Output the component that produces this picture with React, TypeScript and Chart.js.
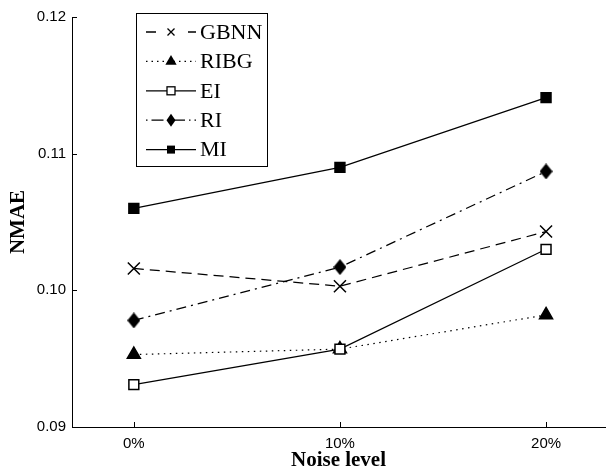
import React, { useEffect, useRef } from 'react';
import { Chart, registerables } from 'chart.js';

Chart.register(...registerables);

// ---- data ----
const noiseLevels = [0, 10, 20];
const noiseLabels = ['0%', '10%', '20%'];
const yTickValues = [0.09, 0.1, 0.11, 0.12];
const seriesNames = ['GBNN', 'RIBG', 'EI', 'RI', 'MI'];
const gbnnValues = [0.1016, 0.1003, 0.1043];
const ribgValues = [0.0953, 0.0957, 0.0982];
const eiValues = [0.0931, 0.0957, 0.103];
const riValues = [0.0978, 0.1017, 0.1087];
const miValues = [0.106, 0.109, 0.1141];

// ---- styles ----
const lineDashes: number[][] = [[10, 6], [1.5, 4.5], [], [10, 5, 2, 5], []];
const legendDashes: number[][] = [[10, 32], [1.5, 4], [], [1.5, 4, 12, 4], []];
const markerKinds = ['cross', 'triangle', 'openSquare', 'diamond', 'filledSquare'];

function makeDiamond(w: number, h: number) {
  const c = document.createElement('canvas');
  c.width = w;
  c.height = h;
  const g = c.getContext('2d')!;
  g.beginPath();
  g.moveTo(w / 2, 0);
  g.lineTo(w, h / 2);
  g.lineTo(w / 2, h);
  g.lineTo(0, h / 2);
  g.closePath();
  g.fillStyle = '#000';
  g.fill();
  return c;
}

function drawLegendMarker(ctx: CanvasRenderingContext2D, kind: string, x: number, y: number) {
  ctx.save();
  ctx.setLineDash([]);
  ctx.strokeStyle = '#000';
  ctx.fillStyle = '#000';
  ctx.lineWidth = 1.3;
  if (kind === 'cross') {
    const s = 3.5;
    ctx.beginPath();
    ctx.moveTo(x - s, y - s);
    ctx.lineTo(x + s, y + s);
    ctx.moveTo(x - s, y + s);
    ctx.lineTo(x + s, y - s);
    ctx.stroke();
  } else if (kind === 'triangle') {
    const r = 6.5;
    ctx.beginPath();
    ctx.moveTo(x, y - r);
    ctx.lineTo(x + r * 0.866, y + r * 0.5);
    ctx.lineTo(x - r * 0.866, y + r * 0.5);
    ctx.closePath();
    ctx.fill();
  } else if (kind === 'openSquare') {
    ctx.fillStyle = '#fff';
    ctx.fillRect(x - 4, y - 4, 8, 8);
    ctx.strokeRect(x - 4, y - 4, 8, 8);
  } else if (kind === 'diamond') {
    ctx.beginPath();
    ctx.moveTo(x, y - 6.5);
    ctx.lineTo(x + 4.5, y);
    ctx.lineTo(x, y + 6.5);
    ctx.lineTo(x - 4.5, y);
    ctx.closePath();
    ctx.fill();
  } else {
    ctx.fillRect(x - 4, y - 4, 8, 8);
  }
  ctx.restore();
}

const legendPlugin = {
  id: 'boxLegend',
  afterDraw(chart: any) {
    const ctx: CanvasRenderingContext2D = chart.ctx;
    ctx.save();
    ctx.fillStyle = '#fff';
    ctx.fillRect(136, 13, 132, 154);
    ctx.strokeStyle = '#000';
    ctx.lineWidth = 1;
    ctx.strokeRect(136.5, 13.5, 131, 153);
    seriesNames.forEach((name, i) => {
      const y = 32 + i * 29.4;
      ctx.setLineDash(legendDashes[i]);
      ctx.lineWidth = 1.3;
      ctx.beginPath();
      ctx.moveTo(146, y);
      ctx.lineTo(196, y);
      ctx.stroke();
      ctx.setLineDash([]);
      drawLegendMarker(ctx, markerKinds[i], 171, y);
      ctx.fillStyle = '#000';
      ctx.font = '22px "Liberation Serif"';
      ctx.textBaseline = 'middle';
      ctx.textAlign = 'left';
      ctx.fillText(name, 200, y + 1);
    });
    ctx.restore();
  },
};

const inwardTicksPlugin = {
  id: 'inwardTicks',
  afterDatasetsDraw(chart: any) {
    const ctx: CanvasRenderingContext2D = chart.ctx;
    const { left, bottom } = chart.chartArea;
    const xs = chart.scales.x;
    const ys = chart.scales.y;
    ctx.save();
    ctx.strokeStyle = '#000';
    ctx.lineWidth = 1;
    ctx.setLineDash([]);
    ctx.beginPath();
    yTickValues.forEach((v) => {
      const py = Math.round(ys.getPixelForValue(v)) + 0.5;
      ctx.moveTo(left, py);
      ctx.lineTo(left + 5, py);
    });
    noiseLevels.forEach((v) => {
      const px = Math.round(xs.getPixelForValue(v)) + 0.5;
      ctx.moveTo(px, bottom);
      ctx.lineTo(px, bottom - 5);
    });
    ctx.stroke();
    ctx.restore();
  },
};

export default function App() {
  const canvasRef = useRef<HTMLCanvasElement | null>(null);

  useEffect(() => {
    if (!canvasRef.current) return;
    const diamond = makeDiamond(13, 16);
    const seriesValues = [gbnnValues, ribgValues, eiValues, riValues, miValues];
    const pointStyles: any[] = ['crossRot', 'triangle', 'rect', diamond, 'rect'];
    const pointRadii = [8.5, 7.5, 7, 7, 7];
    const pointBg = ['#000', '#000', '#fff', '#000', '#000'];
    const orders = [0, 1, 0, 0, 0];

    const datasets = seriesNames.map((name, i) => ({
      label: name,
      data: noiseLevels.map((x, j) => ({ x, y: seriesValues[i][j] })),
      borderColor: '#000',
      borderWidth: 1.2,
      borderDash: lineDashes[i],
      pointStyle: pointStyles[i],
      pointRadius: pointRadii[i],
      pointHoverRadius: pointRadii[i],
      pointBackgroundColor: pointBg[i],
      pointBorderColor: '#000',
      pointBorderWidth: 1.5,
      fill: false,
      tension: 0,
      order: orders[i],
    }));

    const chart = new Chart(canvasRef.current, {
      type: 'line',
      data: { datasets },
      options: {
        animation: false,
        responsive: true,
        maintainAspectRatio: false,
        layout: { padding: { top: 17, left: 0, right: 0, bottom: 0 } },
        plugins: {
          legend: { display: false },
          tooltip: { enabled: false },
        },
        scales: {
          x: {
            type: 'linear',
            min: -3,
            max: 22.86,
            afterBuildTicks: (scale: any) => {
              scale.ticks = noiseLevels.map((v) => ({ value: v }));
            },
            afterFit: (scale: any) => {
              scale.height = 48;
            },
            grid: { display: false, drawTicks: false },
            border: { display: true, color: '#000', width: 1 },
            ticks: {
              color: '#000',
              padding: 8,
              maxRotation: 0,
              font: { family: '"Liberation Sans"', size: 15 },
              callback: (v: any) => {
                const idx = noiseLevels.indexOf(Number(v));
                return idx >= 0 ? noiseLabels[idx] : '';
              },
            },
            title: {
              display: true,
              text: 'Noise level',
              color: '#000',
              font: { family: '"Liberation Serif"', size: 21, weight: 'bold' },
              padding: { top: 0, bottom: 2 },
            },
          },
          y: {
            type: 'linear',
            min: 0.09,
            max: 0.12,
            afterBuildTicks: (scale: any) => {
              scale.ticks = yTickValues.map((v) => ({ value: v }));
            },
            afterFit: (scale: any) => {
              scale.width = 72;
            },
            grid: { display: false, drawTicks: false },
            border: { display: true, color: '#000', width: 1 },
            ticks: {
              color: '#000',
              padding: 6,
              font: { family: '"Liberation Sans"', size: 15 },
              callback: (v: any) => Number(v).toFixed(2),
            },
            title: {
              display: true,
              text: 'NMAE',
              color: '#000',
              font: { family: '"Liberation Serif"', size: 21, weight: 'bold' },
              padding: { top: 6, bottom: 0 },
            },
          },
        },
      },
      plugins: [inwardTicksPlugin, legendPlugin],
    });
    return () => chart.destroy();
  }, []);

  return (
    <div style={{ position: 'fixed', left: 0, top: 0, width: 615, height: 475, background: '#fff' }}>
      <canvas ref={canvasRef} />
    </div>
  );
}
